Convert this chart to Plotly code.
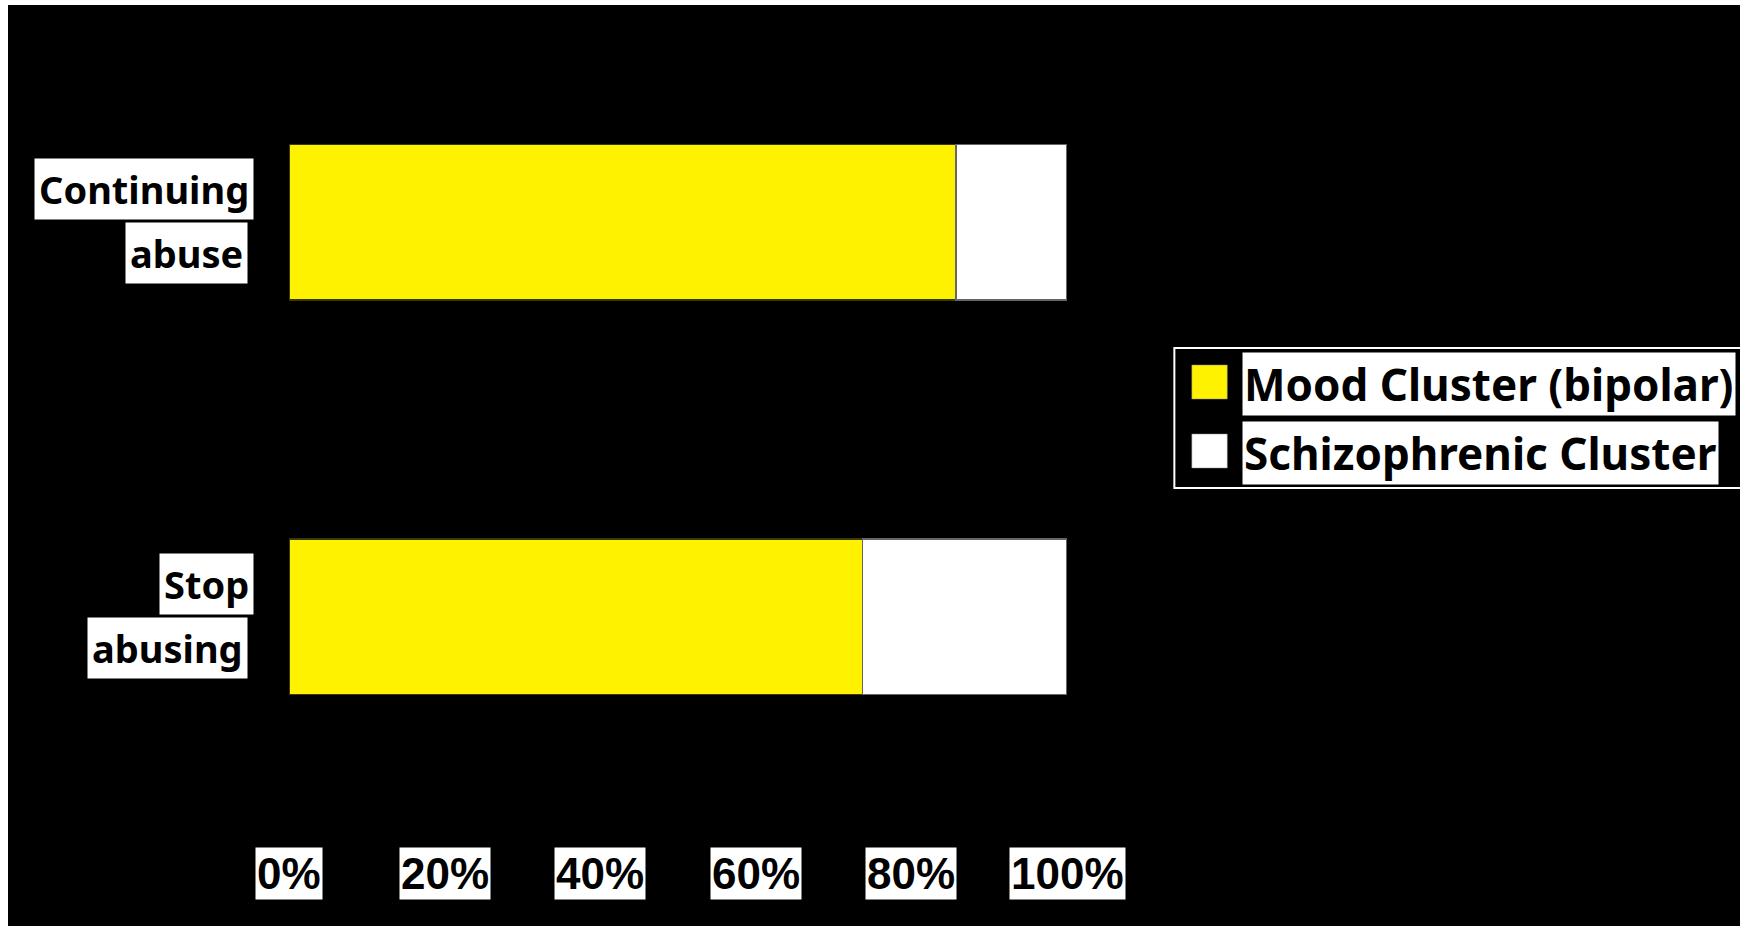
import plotly.graph_objects as go

# ---- data ----
categories = ["Stop abusing", "Continuing abuse"]
category_lines = [["Stop", "abusing"], ["Continuing", "abuse"]]
mood_values = [73.7, 85.7]
schizo_values = [26.3, 14.3]
series_names = ["Mood Cluster (bipolar)", "Schizophrenic Cluster"]
series_colors = ["#FFF200", "#FFFFFF"]
tick_values = [0, 20, 40, 60, 80, 100]
tick_labels = ["0%", "20%", "40%", "60%", "80%", "100%"]

# ---- layout geometry (page pixels) ----
OX, OY = 8, 5            # page offset of the figure
FW, FH = 1740 - OX, 926 - OY
L, PW = 288.5 - OX, 779
T, PH = 25 - OY, 789
R = FW - L - PW
B = FH - T - PH


def px2x(px):
    return (px - OX - L) / PW


def py2y(py):
    return (T + PH - (py - OY)) / PH


LABEL_FONT = dict(family="Noto Sans", size=38, color="black", weight="bold")
LEGEND_FONT = dict(family="Noto Sans", size=44, color="black", weight="bold")
TICK_FONT = dict(family="Liberation Sans", size=44, color="black", weight="bold")

fig = go.Figure()
fig.add_trace(go.Bar(
    y=categories, x=mood_values, orientation="h", name=series_names[0],
    marker=dict(color=series_colors[0], line=dict(color="#3a3a00", width=1.5)),
))
fig.add_trace(go.Bar(
    y=categories, x=schizo_values, orientation="h", name=series_names[1],
    marker=dict(color=series_colors[1], line=dict(color="#666666", width=1.5)),
))

annotations = []
# category labels (each line in its own white box)
first_right, second_right = 253, 247
for cat, lines in zip(categories, category_lines):
    annotations.append(dict(
        text=lines[0], xref="paper", yref="y", x=px2x(first_right), y=cat,
        xanchor="right", yanchor="middle", yshift=33, showarrow=False,
        bgcolor="white", borderpad=4, font=LABEL_FONT))
    annotations.append(dict(
        text=lines[1], xref="paper", yref="y", x=px2x(second_right), y=cat,
        xanchor="right", yanchor="middle", yshift=-31, showarrow=False,
        bgcolor="white", borderpad=4, font=LABEL_FONT))

# x tick labels
for v, t in zip(tick_values, tick_labels):
    annotations.append(dict(
        text=t, xref="x", yref="paper", x=v, y=py2y(873),
        xanchor="center", yanchor="middle", showarrow=False,
        bgcolor="white", borderpad=1, font=TICK_FONT))

# legend (manual): frame open on the right (runs off the page)
lx0, lx1, ly0, ly1 = px2x(1175), px2x(1800), py2y(348), py2y(488)
shapes = [
    dict(type="path", xref="paper", yref="paper",
         path=f"M {lx1},{ly0} L {lx0},{ly0} L {lx0},{ly1} L {lx1},{ly1}",
         line=dict(color="white", width=2), layer="above"),
]
legend_rows = [(365, 399, 383.5), (434, 468, 453)]
for name, color, (sy0, sy1, cy) in zip(series_names, series_colors, legend_rows):
    shapes.append(dict(type="rect", xref="paper", yref="paper",
                       x0=px2x(1192.5), x1=px2x(1228), y0=py2y(sy1), y1=py2y(sy0),
                       fillcolor=color, line=dict(color="#888888", width=0.5), layer="above"))
    annotations.append(dict(
        text=name, xref="paper", yref="paper", x=px2x(1243), y=py2y(cy),
        xanchor="left", yanchor="middle", showarrow=False,
        bgcolor="white", borderpad=1, font=LEGEND_FONT))

fig.update_layout(
    width=FW, height=FH,
    margin=dict(l=L, r=R, t=T, b=B, pad=0, autoexpand=False),
    barmode="stack", bargap=0.607,
    paper_bgcolor="black", plot_bgcolor="black",
    showlegend=False,
    xaxis=dict(range=[0, 100], tickvals=tick_values, showticklabels=False,
               showgrid=False, zeroline=False, showline=False, ticks=""),
    yaxis=dict(categoryorder="array", categoryarray=categories, range=[-0.5, 1.5],
               showticklabels=False, showgrid=False, zeroline=False, showline=False, ticks=""),
    annotations=annotations,
    shapes=shapes,
)

fig.write_html(
    "out.html",
    post_script="document.body.style.margin='%dpx 0 0 %dpx';document.body.style.overflow='hidden';" % (OY, OX),
)
